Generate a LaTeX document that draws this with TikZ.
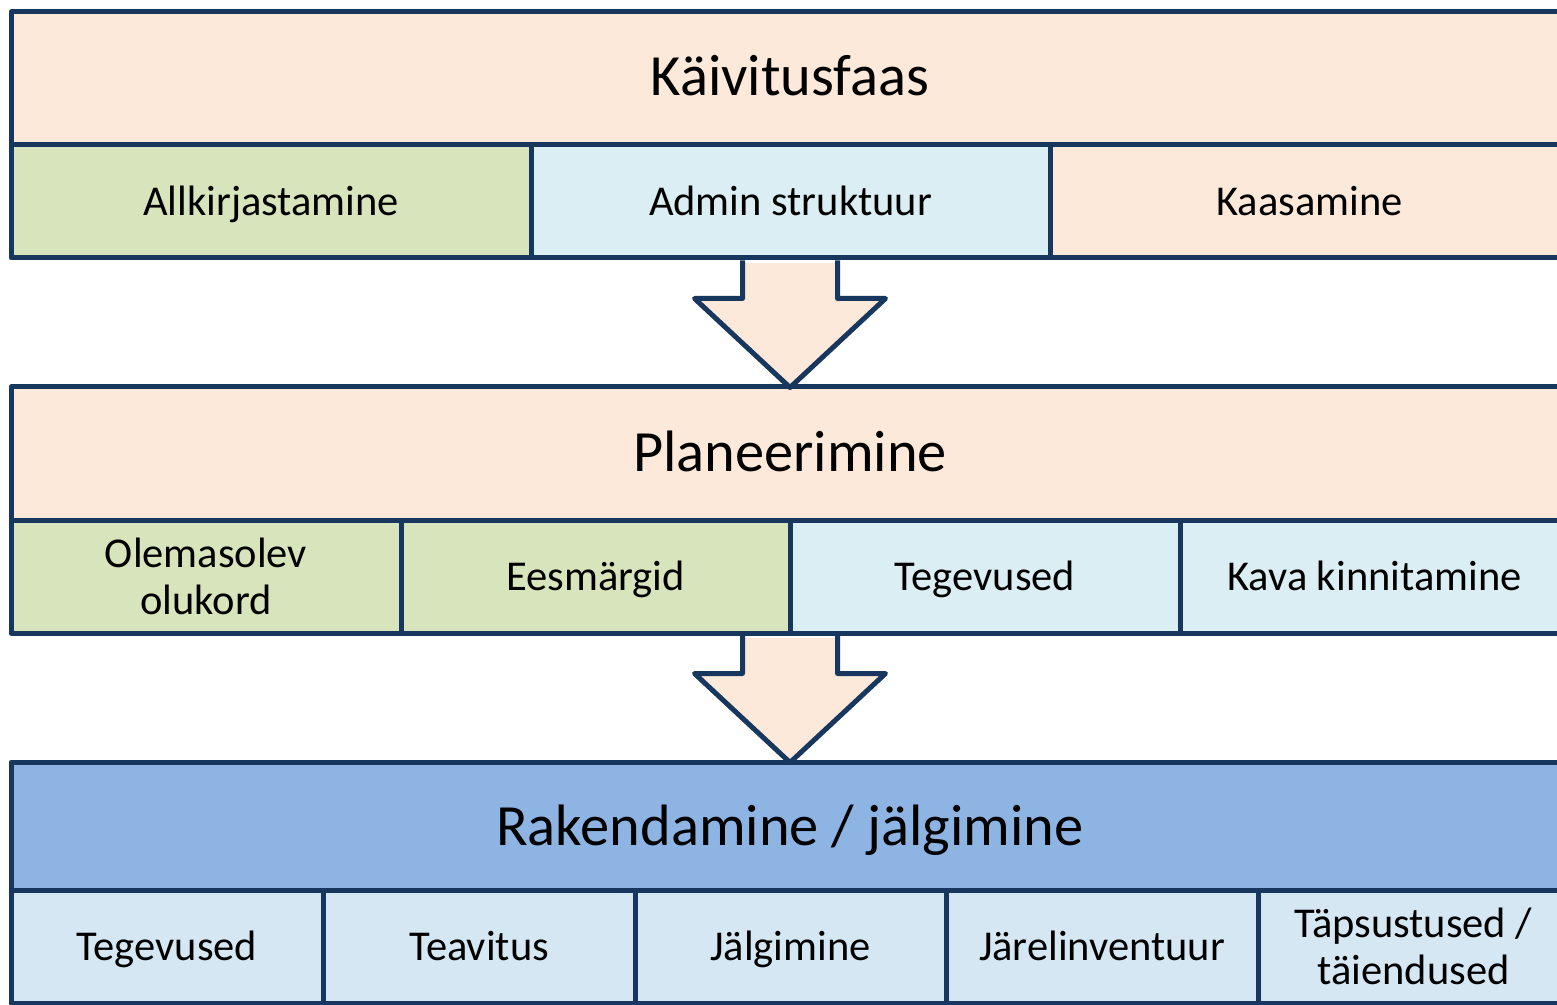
\documentclass[tikz,border=0pt]{standalone}
\usepackage{fontspec}
\setmainfont{Carlito}
\usetikzlibrary{calc}
\definecolor{navy}{RGB}{23,55,94}
\definecolor{peach}{RGB}{253,233,217}
\definecolor{greencell}{RGB}{216,228,188}
\definecolor{lblue}{RGB}{219,238,244}
\definecolor{tblue}{RGB}{142,180,227}
\definecolor{bcell}{RGB}{213,231,243}
\begin{document}
\begin{tikzpicture}[x=0.5pt,y=-0.5pt,
  cell/.style={draw=navy,line width=2.5pt,line join=round,inner sep=0pt,align=center,text=black},
  titlecell/.style={cell,font=\fontsize{29.2}{34}\selectfont,text height=23pt,text depth=5.5pt,minimum width=779pt,minimum height=66.5pt},
  subcell/.style={cell,font=\fontsize{21.25}{23.5}\selectfont,minimum height=56.5pt},
  oneline/.style={text height=17.4pt,text depth=3.8pt},
  arrowfill/.style={fill=peach},
  arrowline/.style={draw=navy,line width=2.5pt,line join=round}]
\useasboundingbox (0,0) rectangle (1557,1005);
\clip (0,0) rectangle (1557,1005);
% phase 1
\node[titlecell,fill=peach] (t1) at (790,78.5) {Käivitusfaas};
\node[subcell,oneline,fill=greencell,minimum width=260pt] (s1a) at (271,201.5) {Allkirjastamine};
\node[subcell,oneline,fill=lblue,minimum width=259.5pt] (s1b) at (790.5,201.5) {Admin struktuur};
\node[subcell,oneline,fill=peach,minimum width=259.5pt] (s1c) at (1309.5,201.5) {Kaasamine};
% phase 2
\node[titlecell,fill=peach] (t2) at (790,453.5) {Planeerimine};
\node[subcell,fill=greencell,minimum width=195pt] (s2a) at (206,576.5) {Olemasolev\\olukord};
\node[subcell,oneline,fill=greencell,minimum width=194.5pt] (s2b) at (595.5,576.5) {Eesmärgid};
\node[subcell,oneline,fill=lblue,minimum width=195pt] (s2c) at (985,576.5) {Tegevused};
\node[subcell,oneline,fill=lblue,minimum width=194.5pt] (s2d) at (1374.5,576.5) {Kava kinnitamine};
% phase 3
\node[titlecell,fill=tblue,minimum height=64pt,text height=24pt,text depth=4.5pt] (t3) at (790,826) {Rakendamine / jälgimine};
\node[subcell,oneline,fill=bcell,minimum width=156pt] (s3a) at (167,946.5) {Tegevused};
\node[subcell,oneline,fill=bcell,minimum width=156pt] (s3b) at (479,946.5) {Teavitus};
\node[subcell,oneline,fill=bcell,minimum width=155.5pt] (s3c) at (790.5,946.5) {Jälgimine};
\node[subcell,oneline,fill=bcell,minimum width=156pt] (s3d) at (1102,946.5) {Järelinventuur};
\node[subcell,fill=bcell,minimum width=155.5pt] (s3e) at (1413.5,946.5) {Täpsustused /\\täiendused};
% block arrows
\coordinate (a1) at (t2.north |- s1b.south);
\coordinate (tip1) at ($(t2.north)+(0,3)$);
\fill[arrowfill] ($(a1)+(-47.5,2.5)$) -- ($(a1)+(-47.5,38)$) -- ($(a1)+(-95.5,38)$) -- (tip1)
  -- ($(a1)+(95.5,38)$) -- ($(a1)+(47.5,38)$) -- ($(a1)+(47.5,2.5)$) -- cycle;
\draw[arrowline] ($(a1)+(-47.5,0)$) -- ($(a1)+(-47.5,38)$) -- ($(a1)+(-95.5,38)$) -- (tip1)
  -- ($(a1)+(95.5,38)$) -- ($(a1)+(47.5,38)$) -- ($(a1)+(47.5,0)$);
\coordinate (a2) at (t3.north |- s2c.south);
\coordinate (tip2) at ($(t3.north)+(0,3)$);
\fill[arrowfill] ($(a2)+(-47.5,2.5)$) -- ($(a2)+(-47.5,38)$) -- ($(a2)+(-95.5,38)$) -- (tip2)
  -- ($(a2)+(95.5,38)$) -- ($(a2)+(47.5,38)$) -- ($(a2)+(47.5,2.5)$) -- cycle;
\draw[arrowline] ($(a2)+(-47.5,0)$) -- ($(a2)+(-47.5,38)$) -- ($(a2)+(-95.5,38)$) -- (tip2)
  -- ($(a2)+(95.5,38)$) -- ($(a2)+(47.5,38)$) -- ($(a2)+(47.5,0)$);
\end{tikzpicture}
\end{document}
